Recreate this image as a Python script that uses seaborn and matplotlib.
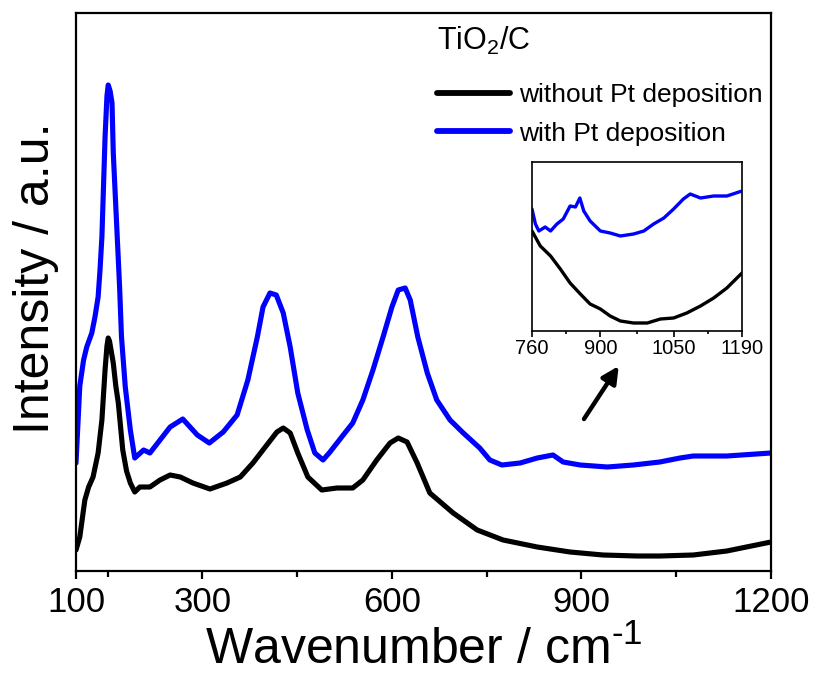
import matplotlib
matplotlib.use("Agg")
import matplotlib.pyplot as plt
import pandas as pd
import seaborn as sns
from matplotlib.lines import Line2D

# Raman spectra of TiO2/C (wavenumber in cm-1, intensity in a.u.)
wn_bare = [100, 106, 114, 120, 127, 135, 141, 146, 149, 151, 153, 159, 163, 167, 174,
           180, 186, 193, 201, 217, 233, 249, 265, 285, 312, 339, 360, 380, 402, 418,
           428, 439, 451, 467, 489, 513, 538, 554, 576, 597, 610, 624, 640, 660, 697,
           735, 776, 830, 882, 934, 988, 1024, 1077, 1130, 1200]
int_bare = [21, 34, 71, 84, 94, 118, 151, 201, 225, 233, 230, 208, 185, 168, 121,
            100, 88, 79, 84, 84, 91, 96, 94, 88, 82, 88, 94, 108, 126, 139,
            143, 138, 118, 94, 81, 83, 83, 91, 111, 128, 133, 129, 108, 78, 58,
            41, 31, 24, 19, 16, 15, 15, 16, 20, 29]

wn_pt = [100, 106, 112, 117, 125, 130, 135, 138, 141, 143, 146, 149, 151, 154, 157,
         159, 164, 169, 172, 178, 186, 193, 207, 217, 233, 249, 269, 292, 311, 333,
         355, 372, 387, 396, 407, 417, 428, 439, 451, 466, 478, 491, 502, 523, 538,
         554, 570, 586, 600, 610, 621, 629, 641, 656, 671, 692, 713, 739, 755, 774,
         803, 830, 855, 871, 898, 941, 982, 1024, 1056, 1077, 1130, 1200]
int_pt = [108, 185, 211, 224, 238, 254, 274, 301, 334, 374, 434, 475, 486, 480, 468,
          418, 351, 284, 234, 184, 141, 113, 121, 118, 131, 144, 152, 136, 128, 139,
          156, 191, 234, 264, 278, 276, 258, 224, 178, 141, 118, 111, 119, 136, 148,
          171, 201, 234, 264, 281, 283, 271, 234, 198, 171, 151, 138, 123, 111, 106,
          108, 113, 116, 109, 106, 104, 106, 109, 113, 115, 115, 118]

# Magnified 760-1190 cm-1 region (separately offset for the inset)
inset_wn_bare = [760, 777, 798, 818, 838, 859, 879, 900, 920, 941, 968, 996, 1023,
                 1050, 1077, 1105, 1132, 1159, 1190]
inset_int_bare = [100, 85, 75, 62, 48, 37, 27, 22, 15, 10, 8, 8, 12,
                  13, 18, 25, 33, 43, 58]
inset_wn_pt = [760, 767, 774, 787, 798, 811, 824, 838, 849, 858, 866, 879, 900, 920,
               941, 968, 989, 1009, 1030, 1050, 1070, 1084, 1105, 1132, 1159, 1190]
inset_int_pt = [122, 107, 100, 104, 100, 107, 112, 125, 124, 133, 120, 110, 100, 98,
                95, 97, 100, 107, 113, 122, 132, 137, 133, 135, 135, 140]

series_labels = ["without Pt deposition", "with Pt deposition"]
series_colors = ["#000000", "#0000ff"]
xticks_main = [100, 300, 600, 900, 1200]
xticks_main_minor = [150, 450, 750, 1050]
xticks_inset = [760, 900, 1050, 1190]
xticks_inset_minor = [830, 975, 1120]

sns.set_style("ticks")
plt.rcParams["font.family"] = ["Liberation Sans", "DejaVu Sans"]
plt.rcParams["mathtext.fontset"] = "custom"
plt.rcParams["mathtext.rm"] = "Liberation Sans"
plt.rcParams["mathtext.it"] = "Liberation Sans:italic"
plt.rcParams["mathtext.bf"] = "Liberation Sans:bold"
plt.rcParams["text.color"] = "black"
plt.rcParams["xtick.color"] = "black"
plt.rcParams["xtick.labelcolor"] = "black"

W, H = 814, 677
fig = plt.figure(figsize=(W / 100, H / 100), dpi=100)


def px_rect(x0, y0, x1, y1):
    return [x0 / W, 1 - y1 / H, (x1 - x0) / W, (y1 - y0) / H]


main = pd.concat([
    pd.DataFrame({"wn": wn_bare, "I": int_bare, "sample": series_labels[0]}),
    pd.DataFrame({"wn": wn_pt, "I": int_pt, "sample": series_labels[1]}),
])
inset = pd.concat([
    pd.DataFrame({"wn": inset_wn_bare, "I": inset_int_bare, "sample": series_labels[0]}),
    pd.DataFrame({"wn": inset_wn_pt, "I": inset_int_pt, "sample": series_labels[1]}),
])
palette = dict(zip(series_labels, series_colors))

# Main spectrum panel
ax = fig.add_axes(px_rect(76, 13, 771, 571))
sns.lineplot(data=main, x="wn", y="I", hue="sample", palette=palette,
             estimator=None, linewidth=3.7, legend=False, ax=ax)
ax.set_xlim(100, 1200)
ax.set_ylim(0, 558)
ax.set_xticks(xticks_main)
ax.set_xticks(xticks_main_minor, minor=True)
ax.set_yticks([])
ax.set_xlabel("")
ax.set_ylabel("")
for s in ax.spines.values():
    s.set_linewidth(1.6)
    s.set_color("black")
ax.tick_params(axis="x", which="major", direction="out", length=6, width=1.6,
               labelsize=25, pad=5, colors="black")
ax.tick_params(axis="x", which="minor", direction="out", length=4, width=1.6,
               colors="black")

fig.text(36 / W, 1 - 278 / H, "Intensity / a.u.", rotation=90, ha="center",
         va="center", fontsize=36, color="black")
fig.text(423.5 / W, 1 - 664 / H, "Wavenumber / cm$^{\\text{-1}}$", ha="center",
         va="baseline", fontsize=36, color="black")

# Legend block
fig.text(437 / W, 1 - 50 / H, "TiO$_2$/C", ha="left", va="baseline", fontsize=22,
         color="black")
handles = [Line2D([], [], color=c, lw=4.2) for c in series_colors]
leg = ax.legend(handles, series_labels, loc="upper left",
                bbox_to_anchor=(437 / W, 1 - 83 / H), bbox_transform=fig.transFigure,
                frameon=False, fontsize=19, handlelength=2.75, handletextpad=0.35,
                borderpad=0, borderaxespad=0, labelspacing=0.55)
for t in leg.get_texts():
    t.set_color("black")

# Pointer from the main trace to the magnified inset
ax.annotate("", xy=(959, 205), xytext=(904, 152),
            arrowprops=dict(arrowstyle="-|>,head_length=1.0,head_width=0.5",
                            color="black", lw=3.2, shrinkA=0, shrinkB=0))

# Inset: 760-1190 cm-1
axi = fig.add_axes(px_rect(532, 162, 742, 331))
sns.lineplot(data=inset, x="wn", y="I", hue="sample", palette=palette,
             estimator=None, linewidth=2.4, legend=False, ax=axi)
axi.set_xlim(760, 1190)
axi.set_ylim(0, 169)
axi.set_xticks(xticks_inset)
axi.set_xticks(xticks_inset_minor, minor=True)
axi.set_yticks([])
axi.set_xlabel("")
axi.set_ylabel("")
for s in axi.spines.values():
    s.set_linewidth(1.2)
    s.set_color("black")
axi.tick_params(axis="x", which="major", direction="out", length=4, width=1.2,
                labelsize=14.5, pad=2, colors="black")
axi.tick_params(axis="x", which="minor", direction="out", length=2.5, width=1.2,
                colors="black")

fig.savefig("out.png", dpi=100)
